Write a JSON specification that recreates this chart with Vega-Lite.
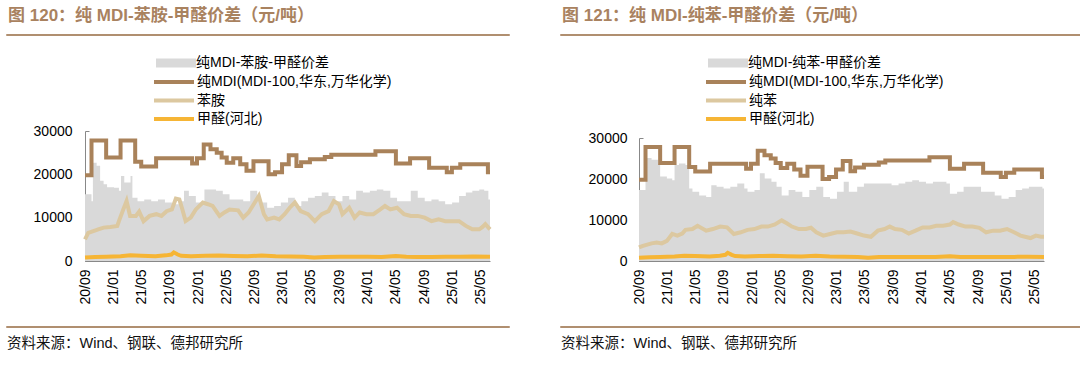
{
  "$schema": "https://vega.github.io/schema/vega-lite/v6.json",
  "background": "white",
  "padding": {"left": 5, "top": 6, "right": 0, "bottom": 0},
  "config": {
    "view": {"stroke": null},
    "font": "Liberation Sans, Noto Sans CJK SC",
    "legend": {"labelFont": "Liberation Sans, Noto Sans CJK SC", "labelFontSize": 14, "labelColor": "#000", "labelLimit": 300, "padding": 0, "title": null},
    "axis": {"labelFont": "Liberation Sans", "labelFontSize": 14, "labelColor": "#000", "domainColor": "#888", "tickColor": "#888", "grid": false, "title": null}
  },
  "datasets": {
    "mdi": [
      {"d": "2020-09-01", "v": 19800}, {"d": "2020-09-29", "v": 27800}, {"d": "2020-12-01", "v": 23900},
      {"d": "2021-02-01", "v": 27800}, {"d": "2021-04-05", "v": 22900}, {"d": "2021-05-01", "v": 21800},
      {"d": "2021-07-04", "v": 23700}, {"d": "2021-12-06", "v": 22500}, {"d": "2021-12-27", "v": 23700},
      {"d": "2022-01-25", "v": 26900}, {"d": "2022-02-23", "v": 25800}, {"d": "2022-03-22", "v": 25000},
      {"d": "2022-04-12", "v": 23900}, {"d": "2022-05-04", "v": 22700}, {"d": "2022-06-01", "v": 23700},
      {"d": "2022-07-01", "v": 22300}, {"d": "2022-07-28", "v": 20800}, {"d": "2022-08-27", "v": 23000},
      {"d": "2022-10-31", "v": 20000}, {"d": "2022-11-28", "v": 20500}, {"d": "2022-12-28", "v": 22300},
      {"d": "2023-01-26", "v": 24400}, {"d": "2023-02-28", "v": 21900}, {"d": "2023-03-20", "v": 22800},
      {"d": "2023-04-27", "v": 23500}, {"d": "2023-06-30", "v": 24000}, {"d": "2023-07-28", "v": 24500},
      {"d": "2024-02-03", "v": 25300}, {"d": "2024-05-01", "v": 22500}, {"d": "2024-07-01", "v": 23700},
      {"d": "2024-09-21", "v": 21500}, {"d": "2024-12-06", "v": 20500}, {"d": "2024-12-28", "v": 21500},
      {"d": "2025-02-02", "v": 22300}, {"d": "2025-06-01", "v": 20500}, {"d": "2025-06-10", "v": 20500}
    ],
    "hcho": [
      {"d": "2020-09-01", "v": 800}, {"d": "2020-10-15", "v": 900}, {"d": "2020-12-01", "v": 1000},
      {"d": "2021-02-01", "v": 1100}, {"d": "2021-03-15", "v": 1300}, {"d": "2021-05-01", "v": 1200},
      {"d": "2021-07-01", "v": 1100}, {"d": "2021-08-15", "v": 1300}, {"d": "2021-09-08", "v": 1500},
      {"d": "2021-09-18", "v": 2000}, {"d": "2021-10-05", "v": 1500}, {"d": "2021-10-20", "v": 1200},
      {"d": "2021-12-01", "v": 1100}, {"d": "2022-02-01", "v": 1200}, {"d": "2022-04-01", "v": 1250},
      {"d": "2022-06-01", "v": 1150}, {"d": "2022-08-01", "v": 1100}, {"d": "2022-10-01", "v": 1250},
      {"d": "2022-12-01", "v": 1100}, {"d": "2023-02-01", "v": 1050}, {"d": "2023-04-01", "v": 1000},
      {"d": "2023-05-15", "v": 800}, {"d": "2023-07-01", "v": 950}, {"d": "2023-09-01", "v": 1000},
      {"d": "2023-11-01", "v": 1000}, {"d": "2024-01-01", "v": 1000}, {"d": "2024-03-01", "v": 950},
      {"d": "2024-05-01", "v": 1150}, {"d": "2024-06-15", "v": 1000}, {"d": "2024-08-01", "v": 950},
      {"d": "2024-10-01", "v": 950}, {"d": "2024-12-01", "v": 1000}, {"d": "2025-02-01", "v": 1000},
      {"d": "2025-04-01", "v": 1050}, {"d": "2025-06-10", "v": 1000}
    ],
    "aniline": [
      {"d": "2020-09-01", "v": 5000}, {"d": "2020-09-15", "v": 6500}, {"d": "2020-10-07", "v": 6900},
      {"d": "2020-10-28", "v": 7300}, {"d": "2020-11-20", "v": 7700}, {"d": "2020-12-19", "v": 7850},
      {"d": "2021-01-18", "v": 8100}, {"d": "2021-01-25", "v": 9200}, {"d": "2021-02-10", "v": 11500},
      {"d": "2021-02-27", "v": 13850}, {"d": "2021-03-14", "v": 10400}, {"d": "2021-04-08", "v": 10400},
      {"d": "2021-04-22", "v": 11400}, {"d": "2021-05-11", "v": 9200}, {"d": "2021-06-06", "v": 10400},
      {"d": "2021-07-05", "v": 10800}, {"d": "2021-07-27", "v": 10400}, {"d": "2021-08-18", "v": 11500},
      {"d": "2021-09-10", "v": 11900}, {"d": "2021-09-27", "v": 14400}, {"d": "2021-10-12", "v": 14200},
      {"d": "2021-10-23", "v": 12300}, {"d": "2021-11-08", "v": 9200}, {"d": "2021-11-30", "v": 10000},
      {"d": "2021-12-22", "v": 11900}, {"d": "2022-01-21", "v": 13500}, {"d": "2022-02-12", "v": 13100},
      {"d": "2022-03-04", "v": 12700}, {"d": "2022-04-03", "v": 10400}, {"d": "2022-04-24", "v": 11200},
      {"d": "2022-05-16", "v": 11900}, {"d": "2022-06-22", "v": 11700}, {"d": "2022-07-14", "v": 10000},
      {"d": "2022-08-06", "v": 11200}, {"d": "2022-08-28", "v": 13100}, {"d": "2022-09-19", "v": 15000},
      {"d": "2022-10-11", "v": 10800}, {"d": "2022-10-25", "v": 9600}, {"d": "2022-11-24", "v": 10000},
      {"d": "2022-12-16", "v": 9600}, {"d": "2023-01-08", "v": 10800}, {"d": "2023-01-30", "v": 12300},
      {"d": "2023-02-21", "v": 13500}, {"d": "2023-03-18", "v": 11500}, {"d": "2023-04-19", "v": 10800},
      {"d": "2023-05-18", "v": 9200}, {"d": "2023-06-17", "v": 10800}, {"d": "2023-07-16", "v": 11500},
      {"d": "2023-08-08", "v": 13850}, {"d": "2023-08-30", "v": 13100}, {"d": "2023-09-14", "v": 10800},
      {"d": "2023-10-13", "v": 12300}, {"d": "2023-11-05", "v": 10000}, {"d": "2023-11-27", "v": 11200},
      {"d": "2023-12-26", "v": 10800}, {"d": "2024-01-25", "v": 10800}, {"d": "2024-02-24", "v": 11900},
      {"d": "2024-03-15", "v": 12700}, {"d": "2024-04-07", "v": 11900}, {"d": "2024-05-06", "v": 12300},
      {"d": "2024-06-05", "v": 10800}, {"d": "2024-07-04", "v": 10400}, {"d": "2024-08-03", "v": 10400},
      {"d": "2024-09-02", "v": 10000}, {"d": "2024-10-01", "v": 9200}, {"d": "2024-11-01", "v": 9600},
      {"d": "2024-11-29", "v": 9200}, {"d": "2024-12-29", "v": 9200}, {"d": "2025-01-28", "v": 9200},
      {"d": "2025-02-26", "v": 8100}, {"d": "2025-03-26", "v": 7300}, {"d": "2025-04-25", "v": 7300},
      {"d": "2025-05-09", "v": 7850}, {"d": "2025-05-21", "v": 8500}, {"d": "2025-06-10", "v": 7300}
    ],
    "benzene": [
      {"d": "2020-09-01", "v": 3300}, {"d": "2020-09-18", "v": 3700}, {"d": "2020-10-25", "v": 4300},
      {"d": "2020-11-16", "v": 4500}, {"d": "2020-12-08", "v": 4300}, {"d": "2020-12-30", "v": 4900},
      {"d": "2021-01-22", "v": 6600}, {"d": "2021-02-13", "v": 6200}, {"d": "2021-03-06", "v": 6700},
      {"d": "2021-03-20", "v": 7600}, {"d": "2021-04-19", "v": 7800}, {"d": "2021-05-11", "v": 8600},
      {"d": "2021-06-17", "v": 7400}, {"d": "2021-07-16", "v": 7800}, {"d": "2021-08-16", "v": 8400},
      {"d": "2021-09-15", "v": 8200}, {"d": "2021-10-14", "v": 6600}, {"d": "2021-11-13", "v": 7000},
      {"d": "2021-12-12", "v": 7600}, {"d": "2022-01-11", "v": 7800}, {"d": "2022-02-10", "v": 8400},
      {"d": "2022-03-10", "v": 8400}, {"d": "2022-04-09", "v": 8900}, {"d": "2022-05-08", "v": 9900},
      {"d": "2022-05-30", "v": 9200}, {"d": "2022-06-21", "v": 8400}, {"d": "2022-07-21", "v": 7800},
      {"d": "2022-08-20", "v": 7800}, {"d": "2022-09-11", "v": 8100}, {"d": "2022-10-04", "v": 7000},
      {"d": "2022-11-03", "v": 6200}, {"d": "2022-12-02", "v": 6600}, {"d": "2023-01-01", "v": 7000},
      {"d": "2023-01-30", "v": 7000}, {"d": "2023-02-28", "v": 7200}, {"d": "2023-03-29", "v": 6700},
      {"d": "2023-04-27", "v": 6200}, {"d": "2023-05-27", "v": 5900}, {"d": "2023-06-26", "v": 7400},
      {"d": "2023-07-25", "v": 7800}, {"d": "2023-08-16", "v": 8400}, {"d": "2023-09-08", "v": 7800},
      {"d": "2023-10-07", "v": 7600}, {"d": "2023-11-06", "v": 6700}, {"d": "2023-12-05", "v": 7400},
      {"d": "2024-01-05", "v": 8200}, {"d": "2024-02-04", "v": 8200}, {"d": "2024-03-03", "v": 8600},
      {"d": "2024-04-02", "v": 8600}, {"d": "2024-05-01", "v": 8900}, {"d": "2024-05-15", "v": 9500},
      {"d": "2024-06-08", "v": 8900}, {"d": "2024-07-07", "v": 8400}, {"d": "2024-08-06", "v": 8400},
      {"d": "2024-09-05", "v": 8100}, {"d": "2024-10-04", "v": 7000}, {"d": "2024-11-03", "v": 7400},
      {"d": "2024-12-02", "v": 7400}, {"d": "2025-01-02", "v": 7800}, {"d": "2025-02-01", "v": 7000},
      {"d": "2025-03-01", "v": 6200}, {"d": "2025-03-29", "v": 5800}, {"d": "2025-04-13", "v": 5600},
      {"d": "2025-05-06", "v": 6200}, {"d": "2025-05-28", "v": 5900}, {"d": "2025-06-10", "v": 5900}
    ],
    "spreadL": [
      {"d": "2020-09-01", "v": 15400}, {"d": "2020-09-29", "v": 13800}, {"d": "2020-10-05", "v": 22700},
      {"d": "2020-10-21", "v": 22000}, {"d": "2020-11-05", "v": 18500}, {"d": "2020-11-20", "v": 17700},
      {"d": "2020-12-05", "v": 17000}, {"d": "2021-01-04", "v": 16900}, {"d": "2021-01-25", "v": 16200},
      {"d": "2021-02-03", "v": 19600}, {"d": "2021-02-17", "v": 18100}, {"d": "2021-03-16", "v": 19600},
      {"d": "2021-03-24", "v": 14600}, {"d": "2021-04-15", "v": 13800}, {"d": "2021-05-14", "v": 14200},
      {"d": "2021-06-13", "v": 13800}, {"d": "2021-07-12", "v": 14200}, {"d": "2021-08-11", "v": 13500},
      {"d": "2021-09-10", "v": 13100}, {"d": "2021-10-09", "v": 13800}, {"d": "2021-11-01", "v": 16200},
      {"d": "2021-11-22", "v": 15000}, {"d": "2021-12-22", "v": 13500}, {"d": "2022-01-28", "v": 16500},
      {"d": "2022-02-19", "v": 16500}, {"d": "2022-03-19", "v": 16200}, {"d": "2022-04-17", "v": 15400},
      {"d": "2022-05-16", "v": 14200}, {"d": "2022-06-15", "v": 14200}, {"d": "2022-07-14", "v": 13800},
      {"d": "2022-08-13", "v": 16200}, {"d": "2022-09-12", "v": 14600}, {"d": "2022-09-26", "v": 13500},
      {"d": "2022-10-25", "v": 12300}, {"d": "2022-11-24", "v": 12700}, {"d": "2022-12-23", "v": 13500},
      {"d": "2023-01-23", "v": 14600}, {"d": "2023-02-21", "v": 12700}, {"d": "2023-03-21", "v": 13800},
      {"d": "2023-04-19", "v": 14600}, {"d": "2023-05-18", "v": 15000}, {"d": "2023-06-17", "v": 15800},
      {"d": "2023-07-16", "v": 15000}, {"d": "2023-08-15", "v": 13800}, {"d": "2023-09-14", "v": 15000},
      {"d": "2023-10-13", "v": 14200}, {"d": "2023-11-12", "v": 16200}, {"d": "2023-12-11", "v": 15800},
      {"d": "2024-01-10", "v": 16200}, {"d": "2024-02-09", "v": 16500}, {"d": "2024-03-08", "v": 16200},
      {"d": "2024-04-07", "v": 14600}, {"d": "2024-05-06", "v": 13800}, {"d": "2024-06-05", "v": 13800},
      {"d": "2024-07-04", "v": 16200}, {"d": "2024-08-03", "v": 14600}, {"d": "2024-09-02", "v": 13800},
      {"d": "2024-10-01", "v": 14200}, {"d": "2024-11-01", "v": 13800}, {"d": "2024-11-29", "v": 13100},
      {"d": "2024-12-29", "v": 13500}, {"d": "2025-01-28", "v": 15000}, {"d": "2025-02-26", "v": 15800},
      {"d": "2025-03-26", "v": 16200}, {"d": "2025-04-25", "v": 16500}, {"d": "2025-05-16", "v": 16200},
      {"d": "2025-06-03", "v": 14200}, {"d": "2025-06-10", "v": 14200}
    ],
    "spreadR": [
      {"d": "2020-09-01", "v": 17300}, {"d": "2020-09-18", "v": 17300}, {"d": "2020-09-29", "v": 25100},
      {"d": "2020-10-25", "v": 24700}, {"d": "2020-11-23", "v": 23800}, {"d": "2020-12-01", "v": 20600},
      {"d": "2020-12-30", "v": 20100}, {"d": "2021-01-22", "v": 19700}, {"d": "2021-02-01", "v": 23400},
      {"d": "2021-02-20", "v": 23800}, {"d": "2021-03-20", "v": 23400}, {"d": "2021-04-05", "v": 17700},
      {"d": "2021-04-19", "v": 16900}, {"d": "2021-05-18", "v": 16000}, {"d": "2021-06-17", "v": 15600},
      {"d": "2021-07-09", "v": 18500}, {"d": "2021-08-01", "v": 18100}, {"d": "2021-08-31", "v": 17700},
      {"d": "2021-09-29", "v": 18100}, {"d": "2021-10-29", "v": 18900}, {"d": "2021-11-28", "v": 17700},
      {"d": "2021-12-12", "v": 16900}, {"d": "2022-01-11", "v": 17300}, {"d": "2022-02-03", "v": 21400},
      {"d": "2022-02-24", "v": 20100}, {"d": "2022-03-25", "v": 19300}, {"d": "2022-04-16", "v": 18100},
      {"d": "2022-05-08", "v": 16000}, {"d": "2022-06-07", "v": 17300}, {"d": "2022-07-06", "v": 16900},
      {"d": "2022-08-05", "v": 15600}, {"d": "2022-09-04", "v": 17300}, {"d": "2022-10-04", "v": 18100},
      {"d": "2022-11-03", "v": 15600}, {"d": "2022-12-02", "v": 15200}, {"d": "2023-01-01", "v": 16900},
      {"d": "2023-01-30", "v": 19300}, {"d": "2023-02-21", "v": 16900}, {"d": "2023-03-29", "v": 18100},
      {"d": "2023-04-27", "v": 18900}, {"d": "2023-05-27", "v": 18900}, {"d": "2023-06-26", "v": 18900},
      {"d": "2023-07-25", "v": 18900}, {"d": "2023-08-24", "v": 18500}, {"d": "2023-09-23", "v": 18900},
      {"d": "2023-10-22", "v": 19300}, {"d": "2023-11-21", "v": 19700}, {"d": "2023-12-20", "v": 19300},
      {"d": "2024-01-19", "v": 18900}, {"d": "2024-02-18", "v": 19300}, {"d": "2024-03-17", "v": 19300},
      {"d": "2024-04-16", "v": 18900}, {"d": "2024-05-01", "v": 16400}, {"d": "2024-06-01", "v": 16900},
      {"d": "2024-06-29", "v": 18100}, {"d": "2024-07-29", "v": 18100}, {"d": "2024-08-28", "v": 18100},
      {"d": "2024-09-12", "v": 16900}, {"d": "2024-10-11", "v": 16900}, {"d": "2024-11-10", "v": 16000},
      {"d": "2024-12-09", "v": 15200}, {"d": "2025-01-09", "v": 15600}, {"d": "2025-02-08", "v": 17300},
      {"d": "2025-03-08", "v": 17700}, {"d": "2025-04-06", "v": 18100}, {"d": "2025-05-06", "v": 18100},
      {"d": "2025-06-03", "v": 17700}, {"d": "2025-06-10", "v": 16000}
    ]
  },
  "spacing": 49,
  "resolve": {"scale": {"fill": "independent", "stroke": "independent"}, "legend": {"fill": "independent", "stroke": "independent"}},
  "hconcat": [
    {
      "spacing": 20,
      "resolve": {"scale": {"fill": "independent", "stroke": "independent"}, "legend": {"fill": "independent", "stroke": "independent"}},
      "vconcat": [
        {
          "width": 503, "height": 1,
          "data": {"values": []},
          "mark": "point",
          "view": {"stroke": "#b08f70", "strokeWidth": 1},
          "title": {"text": "图 120：纯 MDI-苯胺-甲醛价差（元/吨）", "anchor": "start", "frame": "group", "fontSize": 17, "fontWeight": "bold", "color": "#a9825f", "font": "Liberation Sans, Noto Sans CJK SC", "offset": 9, "dx": 2}
        },
        {
          "width": 484, "height": 130,
          "encoding": {
            "x": {"field": "d", "type": "temporal",
              "scale": {"type": "utc", "range": [79, 484], "domain": [{"year": 2020, "month": 9, "date": 1, "utc": true}, {"year": 2025, "month": 6, "date": 10, "utc": true}]},
              "axis": {"format": "%y/%m", "labelAngle": -90, "tickSize": -3, "labelPadding": 11, "labelOverlap": false, "labelFlush": false,
                "values": [{"year": 2020, "month": 9, "date": 1, "utc": true}, {"year": 2021, "month": 1, "date": 1, "utc": true}, {"year": 2021, "month": 5, "date": 1, "utc": true}, {"year": 2021, "month": 9, "date": 1, "utc": true}, {"year": 2022, "month": 1, "date": 1, "utc": true}, {"year": 2022, "month": 5, "date": 1, "utc": true}, {"year": 2022, "month": 9, "date": 1, "utc": true}, {"year": 2023, "month": 1, "date": 1, "utc": true}, {"year": 2023, "month": 5, "date": 1, "utc": true}, {"year": 2023, "month": 9, "date": 1, "utc": true}, {"year": 2024, "month": 1, "date": 1, "utc": true}, {"year": 2024, "month": 5, "date": 1, "utc": true}, {"year": 2024, "month": 9, "date": 1, "utc": true}, {"year": 2025, "month": 1, "date": 1, "utc": true}, {"year": 2025, "month": 5, "date": 1, "utc": true}]}},
            "y": {"field": "v", "type": "quantitative", "scale": {"domain": [0, 30000], "nice": false},
              "axis": {"values": [0, 10000, 20000, 30000], "format": "d", "tickSize": -4, "labelPadding": 17, "offset": -79}}
          },
          "layer": [
            {
              "data": {"name": "spreadL"},
              "mark": {"type": "area", "interpolate": "step-after"},
              "encoding": {"fill": {"datum": "纯MDI-苯胺-甲醛价差", "scale": {"range": ["#d9d9d9"]},
                "legend": {"orient": "none", "legendX": 148, "legendY": -75, "symbolType": "M-4,-0.9H4V0.9H-4Z", "symbolSize": 100, "symbolOffset": 15, "symbolStrokeWidth": 0, "labelOffset": 13}}}
            },
            {
              "data": {"name": "mdi"},
              "mark": {"type": "line", "interpolate": "step-after", "strokeWidth": 4},
              "encoding": {"stroke": {"datum": "纯MDI(MDI-100,华东,万华化学)",
                "scale": {"domain": ["纯MDI(MDI-100,华东,万华化学)", "苯胺", "甲醛(河北)"], "range": ["#a9825a", "#dcc8a0", "#f6b535"]},
                "legend": {"orient": "none", "legendX": 148, "legendY": -56, "symbolType": "M-4,0H4", "symbolSize": 100, "symbolStrokeWidth": 4, "symbolOffset": 13, "labelOffset": 16, "rowPadding": 2.5}}}
            },
            {
              "data": {"name": "aniline"},
              "mark": {"type": "line", "strokeWidth": 4},
              "encoding": {"stroke": {"datum": "苯胺"}}
            },
            {
              "data": {"name": "hcho"},
              "mark": {"type": "line", "strokeWidth": 4},
              "encoding": {"stroke": {"datum": "甲醛(河北)"}}
            }
          ]
        },
        {
          "width": 503, "height": 1,
          "data": {"values": []},
          "mark": "point",
          "view": {"stroke": "#b08f70", "strokeWidth": 1},
          "title": {"text": "资料来源：Wind、钢联、德邦研究所", "orient": "bottom", "anchor": "start", "frame": "group", "fontSize": 14.5, "fontWeight": "normal", "color": "#111", "font": "Liberation Sans, Noto Sans CJK SC", "offset": 10, "dx": 1}
        }
      ]
    },
    {
      "spacing": 20,
      "resolve": {"scale": {"fill": "independent", "stroke": "independent"}, "legend": {"fill": "independent", "stroke": "independent"}},
      "vconcat": [
        {
          "width": 523, "height": 1,
          "data": {"values": []},
          "mark": "point",
          "view": {"stroke": "#b08f70", "strokeWidth": 1},
          "title": {"text": "图 121：纯 MDI-纯苯-甲醛价差（元/吨）", "anchor": "start", "frame": "group", "fontSize": 17, "fontWeight": "bold", "color": "#a9825f", "font": "Liberation Sans, Noto Sans CJK SC", "offset": 9, "dx": 2}
        },
        {
          "width": 484, "height": 123,
          "encoding": {
            "x": {"field": "d", "type": "temporal",
              "scale": {"type": "utc", "range": [79, 484], "domain": [{"year": 2020, "month": 9, "date": 1, "utc": true}, {"year": 2025, "month": 6, "date": 10, "utc": true}]},
              "axis": {"format": "%y/%m", "labelAngle": -90, "tickSize": -3, "labelPadding": 11, "labelOverlap": false, "labelFlush": false,
                "values": [{"year": 2020, "month": 9, "date": 1, "utc": true}, {"year": 2021, "month": 1, "date": 1, "utc": true}, {"year": 2021, "month": 5, "date": 1, "utc": true}, {"year": 2021, "month": 9, "date": 1, "utc": true}, {"year": 2022, "month": 1, "date": 1, "utc": true}, {"year": 2022, "month": 5, "date": 1, "utc": true}, {"year": 2022, "month": 9, "date": 1, "utc": true}, {"year": 2023, "month": 1, "date": 1, "utc": true}, {"year": 2023, "month": 5, "date": 1, "utc": true}, {"year": 2023, "month": 9, "date": 1, "utc": true}, {"year": 2024, "month": 1, "date": 1, "utc": true}, {"year": 2024, "month": 5, "date": 1, "utc": true}, {"year": 2024, "month": 9, "date": 1, "utc": true}, {"year": 2025, "month": 1, "date": 1, "utc": true}, {"year": 2025, "month": 5, "date": 1, "utc": true}]}},
            "y": {"field": "v", "type": "quantitative", "scale": {"domain": [0, 30000], "nice": false},
              "axis": {"values": [0, 10000, 20000, 30000], "format": "d", "tickSize": -4, "labelPadding": 16, "offset": -79}}
          },
          "layer": [
            {
              "data": {"name": "spreadR"},
              "mark": {"type": "area", "interpolate": "step-after"},
              "encoding": {"fill": {"datum": "纯MDI-纯苯-甲醛价差", "scale": {"range": ["#d9d9d9"]},
                "legend": {"orient": "none", "legendX": 146, "legendY": -82, "symbolType": "M-4,-0.9H4V0.9H-4Z", "symbolSize": 100, "symbolOffset": 15, "symbolStrokeWidth": 0, "labelOffset": 13}}}
            },
            {
              "data": {"name": "mdi"},
              "mark": {"type": "line", "interpolate": "step-after", "strokeWidth": 4},
              "encoding": {"stroke": {"datum": "纯MDI(MDI-100,华东,万华化学)",
                "scale": {"domain": ["纯MDI(MDI-100,华东,万华化学)", "纯苯", "甲醛(河北)"], "range": ["#a9825a", "#dcc8a0", "#f6b535"]},
                "legend": {"orient": "none", "legendX": 146, "legendY": -63, "symbolType": "M-4,0H4", "symbolSize": 100, "symbolStrokeWidth": 4, "symbolOffset": 13, "labelOffset": 16, "rowPadding": 2.5}}}
            },
            {
              "data": {"name": "benzene"},
              "mark": {"type": "line", "strokeWidth": 4},
              "encoding": {"stroke": {"datum": "纯苯"}}
            },
            {
              "data": {"name": "hcho"},
              "mark": {"type": "line", "strokeWidth": 4},
              "encoding": {"stroke": {"datum": "甲醛(河北)"}}
            }
          ]
        },
        {
          "width": 523, "height": 1,
          "data": {"values": []},
          "mark": "point",
          "view": {"stroke": "#b08f70", "strokeWidth": 1},
          "title": {"text": "资料来源：Wind、钢联、德邦研究所", "orient": "bottom", "anchor": "start", "frame": "group", "fontSize": 14.5, "fontWeight": "normal", "color": "#111", "font": "Liberation Sans, Noto Sans CJK SC", "offset": 10, "dx": 1}
        }
      ]
    }
  ]
}
